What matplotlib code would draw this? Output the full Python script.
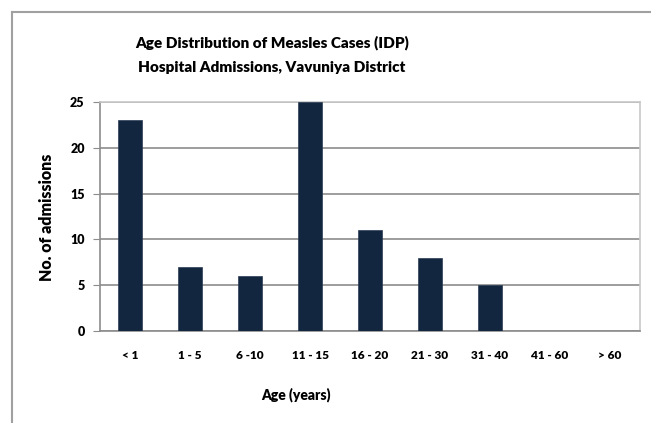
import matplotlib.pyplot as plt
from matplotlib.lines import Line2D

age_groups = ["< 1", "1 - 5", "6 -10", "11 - 15", "16 - 20", "21 - 30", "31 - 40", "41 - 60", "> 60"]
admissions = [23, 7, 6, 25, 11, 8, 5, 0, 0]

plt.rcParams['font.family'] = ['Lato', 'DejaVu Sans']
plt.rcParams['font.weight'] = 'heavy'

W, H = 651, 423
fig = plt.figure(figsize=(W / 100, H / 100), dpi=100)
fig.patch.set_facecolor('white')

# outer chart frame (gray line, left and top)
fig.add_artist(Line2D([12 / W, 12 / W], [0, 1 - 12 / H], color='#a0a0a0', lw=1.5))
fig.add_artist(Line2D([12 / W, 1], [1 - 12 / H, 1 - 12 / H], color='#a0a0a0', lw=1.5))

ax = fig.add_axes([100 / W, 1 - 331 / H, 540 / W, 229 / H])
x = range(len(age_groups))
ax.bar(x, admissions, width=0.4, color='#13263f', edgecolor='#2b3b55', linewidth=0.5, zorder=3)

ax.set_xlim(-0.5, len(age_groups) - 0.5)
ax.set_ylim(0, 25)
ax.set_yticks([0, 5, 10, 15, 20, 25])
ax.set_xticks(list(x))
ax.set_xticklabels(age_groups)
ax.yaxis.grid(True, color='#8c8c8c', linewidth=1.2, zorder=0)
ax.tick_params(axis='x', length=0, pad=14, labelsize=8.5)
ax.tick_params(axis='y', length=5, color='#8c8c8c', pad=6, labelsize=9)

for side in ['top', 'right']:
    ax.spines[side].set_color('#c8c8c8')
ax.spines['left'].set_color('#8c8c8c')
ax.spines['bottom'].set_color('#8c8c8c')
for s in ax.spines.values():
    s.set_linewidth(1.2)

fig.text(272 / W, 1 - 43 / H, "Age Distribution of Measles Cases (IDP)", ha='center', va='center',
         fontsize=11)
fig.text(272 / W, 1 - 68 / H, "Hospital Admissions, Vavuniya District", ha='center', va='center',
         fontsize=11)
fig.text(296 / W, 1 - 395 / H, "Age (years)", ha='center', va='center', fontsize=10)
fig.text(47 / W, 1 - 217 / H, "No. of admissions", ha='center', va='center', rotation=90,
         fontsize=11.5)

fig.savefig("out.png", dpi=100)
